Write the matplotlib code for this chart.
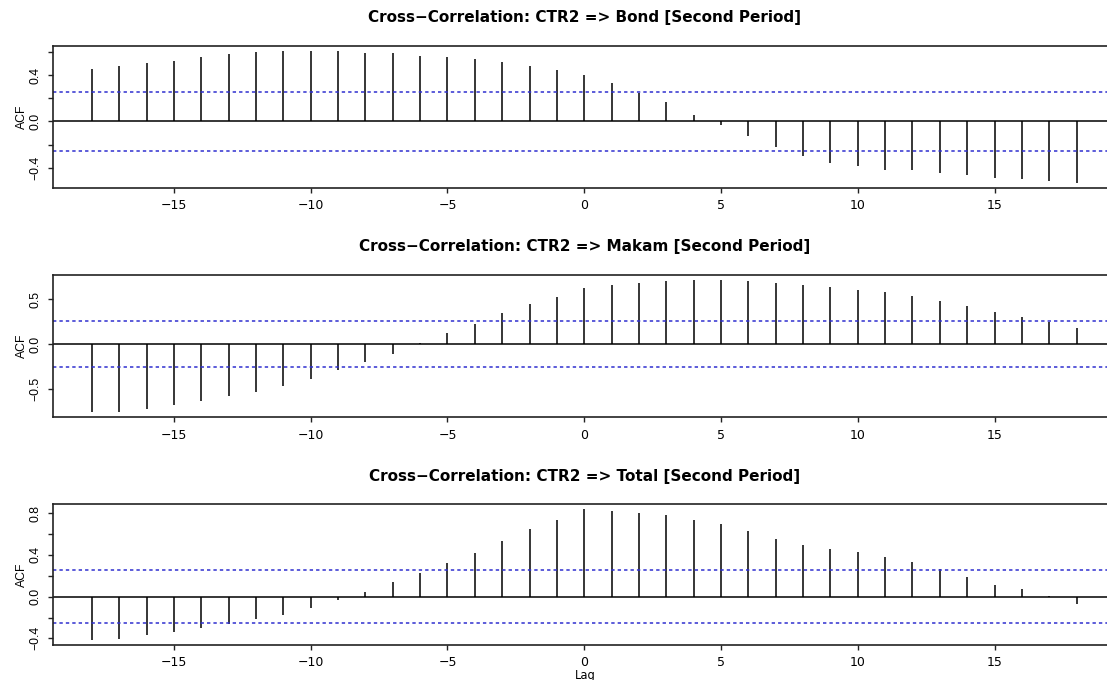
import numpy as np
import matplotlib
matplotlib.use("Agg")
import matplotlib.pyplot as plt

lags = list(range(-18, 19))

titles = [
    "Cross\u2212Correlation: CTR2 => Bond [Second Period]",
    "Cross\u2212Correlation: CTR2 => Makam [Second Period]",
    "Cross\u2212Correlation: CTR2 => Total [Second Period]",
]

acf_bond = [0.454, 0.480, 0.506, 0.526, 0.563, 0.586, 0.600, 0.611, 0.611, 0.609,
            0.597, 0.597, 0.571, 0.557, 0.543, 0.514, 0.480, 0.445, 0.406, 0.334,
            0.249, 0.166, 0.060, -0.030, -0.123, -0.217, -0.300, -0.357, -0.389,
            -0.417, -0.417, -0.443, -0.466, -0.494, -0.500, -0.517, -0.529]

acf_makam = [-0.754, -0.754, -0.717, -0.680, -0.636, -0.577, -0.533, -0.470, -0.386,
             -0.290, -0.199, -0.114, 0.010, 0.125, 0.228, 0.342, 0.445, 0.522,
             0.625, 0.654, 0.684, 0.702, 0.713, 0.710, 0.702, 0.680, 0.658, 0.636,
             0.607, 0.577, 0.533, 0.485, 0.423, 0.360, 0.305, 0.246, 0.184]

acf_total = [-0.416, -0.403, -0.371, -0.340, -0.302, -0.260, -0.219, -0.175, -0.108,
             -0.030, 0.048, 0.140, 0.225, 0.320, 0.422, 0.533, 0.648, 0.734,
             0.837, 0.821, 0.803, 0.777, 0.734, 0.693, 0.627, 0.552, 0.492, 0.458,
             0.426, 0.382, 0.335, 0.260, 0.191, 0.113, 0.069, 0.006, -0.072]

clim = 0.255

ytick_sets = [
    ([-0.4, -0.2, 0.0, 0.2, 0.4, 0.6], ["\u22120.4", "", "0.0", "", "0.4", ""]),
    ([-0.5, 0.0, 0.5], ["\u22120.5", "0.0", "0.5"]),
    ([-0.4, -0.2, 0.0, 0.2, 0.4, 0.6, 0.8], ["\u22120.4", "", "0.0", "", "0.4", "", "0.8"]),
]
xticks = [-15, -10, -5, 0, 5, 10, 15]
xticklabels = ["\u221215", "\u221210", "\u22125", "0", "5", "10", "15"]

plt.rcParams['font.family'] = ['DejaVu Sans']

fig = plt.figure(figsize=(11.07, 6.8), dpi=100)

W, H = 1107.0, 680.0
left_px, right_px = 52.5, 1116.0
panels_px = [(45.7, 187.8), (274.7, 417.3), (504.0, 645.3)]
series = [acf_bond, acf_makam, acf_total]
ink = "#222222"

for i, (top, bot) in enumerate(panels_px):
    ax = fig.add_axes([left_px / W, 1 - bot / H, (right_px - left_px) / W, (bot - top) / H])
    vals = np.array(series[i])
    lo = min(vals.min(), -clim)
    hi = max(vals.max(), clim)
    ext = 0.04 * (hi - lo)
    ax.set_ylim(lo - ext, hi + ext)
    ax.set_xlim(-19.44, 19.44)
    ax.vlines(lags, 0, vals, colors="black", linewidth=1.1)
    ax.axhline(0, color="black", linewidth=1.1)
    for c in (clim, -clim):
        ax.axhline(c, color="#2f2fd0", linewidth=1.1, linestyle=(0, (2.2, 2.0)))
    for s in ax.spines.values():
        s.set_linewidth(1.2)
        s.set_color(ink)
    ax.set_xticks(xticks)
    ax.set_xticklabels(xticklabels, fontsize=9, family="DejaVu Sans")
    yt, yl = ytick_sets[i]
    ax.set_yticks(yt)
    ax.set_yticklabels(yl, fontsize=8.8, rotation=90, va="center", family="Liberation Sans")
    ax.tick_params(axis="both", direction="out", length=3.9, width=1.0, color=ink)
    ax.tick_params(axis="x", pad=4.0 if i == 2 else 4.5)
    ax.tick_params(axis="y", pad=3.8)
    ax.set_ylabel("ACF", fontsize=8.8, family="Liberation Sans")
    ax.yaxis.set_label_coords(-0.0226, 0.5)
    ax.annotate(titles[i], xy=(0.5, 1.0), xycoords="axes fraction",
                xytext=(0, 27.7 * 0.72), textcoords="offset points",
                ha="center", va="center", fontsize=11, fontweight="bold",
                family="DejaVu Sans")

fig.text(585.0 / W, 1 - 675.0 / H, "Lag", ha="center", va="center", fontsize=8.3,
         family="DejaVu Sans")

fig.savefig("out.png", dpi=100)
